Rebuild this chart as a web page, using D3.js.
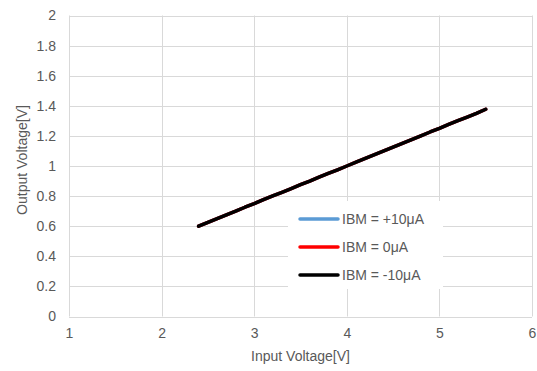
<!DOCTYPE html>
<html><head><meta charset="utf-8">
<script src="https://cdn.jsdelivr.net/npm/d3@7"></script>
<style>body{margin:0;background:#fff;} text{font-family:"Liberation Sans",Arial,sans-serif;}</style>
</head><body><svg id="c" width="537" height="371"></svg>
<script>
const inputV = [2.4,2.5,2.6,2.7,2.8,2.9,3.0,3.1,3.2,3.3,3.4,3.5,3.6,3.7,3.8,3.9,4.0,4.1,4.2,4.3,4.4,4.5,4.6,4.7,4.8,4.9,5.0,5.1,5.2,5.3,5.4,5.5];
const outPlus10 = [0.600,0.626,0.651,0.676,0.700,0.726,0.750,0.776,0.801,0.825,0.850,0.876,0.900,0.926,0.951,0.975,1.000,1.026,1.051,1.075,1.100,1.126,1.151,1.175,1.200,1.226,1.250,1.276,1.301,1.325,1.350,1.377];
const out0 = [0.600,0.626,0.651,0.676,0.700,0.726,0.750,0.776,0.801,0.825,0.850,0.876,0.900,0.926,0.951,0.975,1.000,1.026,1.051,1.075,1.100,1.126,1.151,1.175,1.200,1.226,1.250,1.276,1.301,1.325,1.350,1.377];
const outMinus10 = [0.600,0.626,0.651,0.676,0.700,0.726,0.750,0.776,0.801,0.825,0.850,0.876,0.900,0.926,0.951,0.975,1.000,1.026,1.051,1.075,1.100,1.126,1.151,1.175,1.200,1.226,1.250,1.276,1.301,1.325,1.350,1.377];
const seriesNames = ["IBM = +10\u03bcA","IBM = 0\u03bcA","IBM = -10\u03bcA"];
const seriesColors = ["#5b9bd5","#ff0000","#000000"];
const xTicks = [1,2,3,4,5,6];
const yTicks = [0,0.2,0.4,0.6,0.8,1,1.2,1.4,1.6,1.8,2];
const xTitle = "Input Voltage[V]";
const yTitle = "Output Voltage[V]";

const svg = d3.select("#c");
const L=69, R=532, T=15.5, B=316.5;
const x = d3.scaleLinear().domain([1,6]).range([L,R]);
const y = d3.scaleLinear().domain([0,2]).range([B,T]);
const grid="#d9d9d9", txt="#595959", fs="14px";

svg.append("g").selectAll("line").data(yTicks).join("line")
  .attr("x1",L).attr("x2",R).attr("y1",d=>Math.round(y(d))+0.5).attr("y2",d=>Math.round(y(d))+0.5)
  .attr("stroke",grid).attr("stroke-width",1);
svg.append("g").selectAll("line").data(xTicks).join("line")
  .attr("y1",T).attr("y2",B).attr("x1",d=>Math.round(x(d))+0.5).attr("x2",d=>Math.round(x(d))+0.5)
  .attr("stroke",grid).attr("stroke-width",1);

const xa = svg.append("g").attr("transform",`translate(0,${B})`)
  .call(d3.axisBottom(x).tickValues(xTicks).tickSize(0).tickPadding(12).tickFormat(d3.format("d")));
xa.select(".domain").remove();
xa.selectAll("text").attr("fill",txt).style("font-size",fs);
const ya = svg.append("g").attr("transform",`translate(${L},0)`)
  .call(d3.axisLeft(y).tickValues(yTicks).tickSize(0).tickPadding(13).tickFormat(d=>String(+d.toFixed(1))));
ya.select(".domain").remove();
ya.selectAll("text").attr("fill",txt).style("font-size",fs);

svg.append("text").attr("x",(L+R)/2).attr("y",361).attr("text-anchor","middle")
  .attr("fill",txt).style("font-size",fs).text(xTitle);
svg.append("text").attr("transform",`translate(27,${(T+B)/2-6}) rotate(-90)`).attr("text-anchor","middle")
  .attr("fill",txt).style("font-size",fs).text(yTitle);

const allSeries=[outPlus10,out0,outMinus10];
const line=d3.line().x((d,i)=>x(inputV[i])).y(d=>y(d));
allSeries.forEach((s,k)=>{
  svg.append("path").datum(s).attr("d",line).attr("fill","none")
    .attr("stroke",seriesColors[k]).attr("stroke-width",3.5).attr("stroke-linecap","round").attr("stroke-linejoin","round");
});

const lg = svg.append("g");
lg.append("rect").attr("x",288).attr("y",201).attr("width",155).attr("height",88).attr("fill","#fff");
seriesNames.forEach((n,k)=>{
  const cy = 219 + k*28;
  lg.append("line").attr("x1",300).attr("x2",338).attr("y1",cy).attr("y2",cy)
    .attr("stroke",seriesColors[k]).attr("stroke-width",3.5).attr("stroke-linecap","round");
  lg.append("text").attr("x",342).attr("y",cy+5).attr("fill",txt).style("font-size",fs).text(n);
});
</script></body></html>
